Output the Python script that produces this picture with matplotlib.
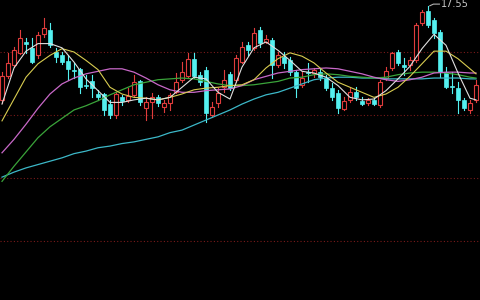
import numpy as np
import matplotlib
matplotlib.use("Agg")
import matplotlib.pyplot as plt
from matplotlib.patches import Rectangle

# daily candles (open, high, low, close)
opens = [16.43, 16.71, 16.85, 16.99, 17.12, 17.05, 16.96, 17.21, 17.26, 17.00,
         16.96, 16.89, 16.79, 16.80, 16.61, 16.65, 16.50, 16.50, 16.38, 16.25,
         16.46, 16.43, 16.49, 16.65, 16.33, 16.40, 16.46, 16.35, 16.39, 16.52,
         16.67, 16.71, 16.92, 16.73, 16.79, 16.25, 16.39, 16.58, 16.74, 16.67,
         16.88, 17.08, 17.05, 17.26, 17.12, 17.14, 16.85, 16.94, 16.90, 16.76,
         16.61, 16.76, 16.75, 16.76, 16.69, 16.57, 16.51, 16.32, 16.43, 16.52,
         16.42, 16.39, 16.43, 16.37, 16.69, 16.81, 17.00, 16.85, 16.85, 16.90,
         17.35, 17.49, 17.38, 17.24, 16.76, 16.60, 16.57, 16.43, 16.31, 16.43]
highs = [16.76, 16.99, 17.06, 17.26, 17.17, 17.17, 17.24, 17.40, 17.35, 17.05,
         17.00, 16.96, 16.87, 16.81, 16.73, 16.73, 16.55, 16.51, 16.43, 16.52,
         16.49, 16.57, 16.73, 16.67, 16.46, 16.51, 16.49, 16.43, 16.51, 16.75,
         16.88, 16.99, 16.99, 16.76, 16.82, 16.40, 16.57, 16.79, 16.76, 16.96,
         17.12, 17.12, 17.29, 17.30, 17.20, 17.17, 17.00, 17.00, 16.94, 16.79,
         16.76, 16.87, 16.81, 16.81, 16.73, 16.63, 16.55, 16.46, 16.57, 16.58,
         16.46, 16.45, 16.45, 16.67, 16.82, 17.00, 17.02, 16.93, 16.94, 17.35,
         17.50, 17.55, 17.40, 17.26, 16.82, 16.76, 16.64, 16.45, 16.43, 16.67]
lows = [16.39, 16.69, 16.82, 16.98, 16.99, 16.87, 16.93, 17.18, 17.06, 16.88,
        16.86, 16.67, 16.69, 16.51, 16.57, 16.46, 16.43, 16.25, 16.21, 16.21,
        16.37, 16.40, 16.46, 16.37, 16.19, 16.21, 16.36, 16.29, 16.31, 16.51,
        16.64, 16.70, 16.69, 16.61, 16.17, 16.23, 16.35, 16.52, 16.55, 16.64,
        16.87, 16.96, 17.02, 17.06, 17.11, 16.69, 16.82, 16.81, 16.73, 16.46,
        16.58, 16.64, 16.70, 16.67, 16.55, 16.43, 16.27, 16.31, 16.40, 16.43,
        16.37, 16.37, 16.37, 16.35, 16.67, 16.79, 16.85, 16.73, 16.79, 16.88,
        17.32, 17.30, 17.17, 16.70, 16.57, 16.51, 16.27, 16.31, 16.27, 16.40]
closes = [16.71, 16.87, 17.02, 17.17, 17.10, 16.88, 17.20, 17.29, 17.08, 16.94,
          16.88, 16.80, 16.77, 16.58, 16.60, 16.57, 16.46, 16.31, 16.25, 16.50,
          16.42, 16.48, 16.64, 16.40, 16.40, 16.46, 16.39, 16.39, 16.49, 16.64,
          16.76, 16.92, 16.71, 16.64, 16.27, 16.35, 16.51, 16.67, 16.57, 16.93,
          17.06, 17.02, 17.23, 17.11, 17.15, 16.85, 16.96, 16.87, 16.76, 16.57,
          16.69, 16.75, 16.79, 16.70, 16.57, 16.46, 16.33, 16.42, 16.52, 16.46,
          16.38, 16.43, 16.38, 16.64, 16.77, 16.99, 16.87, 16.82, 16.90, 17.32,
          17.48, 17.32, 17.23, 16.76, 16.58, 16.58, 16.43, 16.33, 16.39, 16.61]

# moving averages, read every second session (last one at the final session)
ma5 = [16.38, 16.81, 17.01, 17.10, 17.10, 17.05, 16.88, 16.68, 16.54, 16.40,
       16.40, 16.43, 16.45, 16.43, 16.46, 16.58, 16.70, 16.68, 16.52, 16.44,
       16.82, 17.05, 17.12, 17.02, 16.90, 16.77, 16.75, 16.70, 16.60, 16.46,
       16.43, 16.44, 16.54, 16.68, 16.83, 17.04, 17.21, 17.08, 16.75, 16.45, 16.43]
ma10 = [16.18, 16.44, 16.70, 16.86, 16.96, 17.04, 17.00, 16.90, 16.79, 16.58,
        16.50, 16.46, 16.45, 16.43, 16.46, 16.50, 16.55, 16.57, 16.58, 16.60,
        16.61, 16.67, 16.81, 16.92, 16.99, 16.95, 16.87, 16.75, 16.64, 16.58,
        16.52, 16.46, 16.50, 16.58, 16.71, 16.86, 17.01, 17.01, 16.92, 16.80, 16.74]
ma20 = [15.80, 15.96, 16.14, 16.33, 16.50, 16.62, 16.69, 16.74, 16.77, 16.80,
        16.80, 16.76, 16.69, 16.61, 16.55, 16.52, 16.52, 16.54, 16.55, 16.56,
        16.60, 16.67, 16.71, 16.75, 16.77, 16.79, 16.80, 16.81, 16.80, 16.77,
        16.74, 16.70, 16.67, 16.65, 16.67, 16.70, 16.75, 16.76, 16.76, 16.75, 16.75]
ma60 = [15.46, 15.64, 15.81, 15.98, 16.11, 16.21, 16.31, 16.36, 16.42, 16.49,
        16.55, 16.61, 16.64, 16.67, 16.68, 16.69, 16.68, 16.65, 16.62, 16.60,
        16.60, 16.61, 16.63, 16.65, 16.69, 16.70, 16.73, 16.74, 16.73, 16.71,
        16.70, 16.69, 16.70, 16.73, 16.75, 16.76, 16.76, 16.75, 16.73, 16.70, 16.69]
ma120 = [15.51, 15.57, 15.62, 15.66, 15.70, 15.74, 15.79, 15.82, 15.86, 15.88,
         15.91, 15.93, 15.96, 15.99, 16.04, 16.07, 16.13, 16.19, 16.25, 16.31,
         16.38, 16.44, 16.49, 16.52, 16.57, 16.62, 16.67, 16.69, 16.70, 16.70,
         16.69, 16.69, 16.68, 16.68, 16.68, 16.68, 16.69, 16.69, 16.69, 16.68, 16.68]

grid_levels = [17.0, 16.25, 15.5, 14.75]

UP = '#e03c3c'
DOWN = '#54f0f0'

n = len(closes)
ma_x = list(range(0, n, 2)) + [n - 1]

fig = plt.figure(figsize=(4.8, 3.0), dpi=100, facecolor='black')
ax = fig.add_axes([0, 0, 1, 1])
ax.set_facecolor('black')

for lv in grid_levels:
    ax.axhline(lv, color='#7a1a1a', lw=0.8, ls=(0, (1, 2)), zorder=1)

w = 0.62
for i in range(n):
    o, h, l, c = opens[i], highs[i], lows[i], closes[i]
    top, bot = max(o, c), min(o, c)
    if c > o:
        ax.plot([i, i], [top, h], color=UP, lw=0.8, zorder=3)
        ax.plot([i, i], [l, bot], color=UP, lw=0.8, zorder=3)
        ax.add_patch(Rectangle((i - w / 2, bot), w, max(top - bot, 0.004),
                               facecolor='black', edgecolor=UP, lw=0.8, zorder=3))
    else:
        ax.plot([i, i], [l, h], color=DOWN, lw=0.8, zorder=3)
        ax.add_patch(Rectangle((i - w / 2, bot), w, max(top - bot, 0.012),
                               facecolor=DOWN, edgecolor=DOWN, lw=0.5, zorder=3))

ax.plot(ma_x, ma120, color='#3cb8c8', lw=0.9, zorder=4)
ax.plot(ma_x, ma60, color='#3aa43a', lw=0.9, zorder=4)
ax.plot(ma_x, ma20, color='#c868c8', lw=0.9, zorder=4)
ax.plot(ma_x, ma10, color='#d8cc50', lw=0.8, zorder=4)
ax.plot(ma_x, ma5, color='#e0e0e0', lw=0.8, zorder=4)

# highest price marker
k = int(np.argmax(highs))
hi = highs[k]
ax.plot([k + 0.3, k + 0.9, k + 1.9], [hi, hi + 0.02, hi + 0.02], color='#b0b0b0', lw=0.8, zorder=5)
ax.text(k + 2.1, hi + 0.02, f'{hi:.2f}', color='#c8c8c8', fontsize=7,
        va='center', ha='left', zorder=5)

ax.set_xlim(-1 / 3, n - 1 / 3)
ax.set_ylim(17.619 - 300 / 84, 17.619)
ax.axis('off')

fig.savefig('out.png', dpi=100, facecolor='black')
